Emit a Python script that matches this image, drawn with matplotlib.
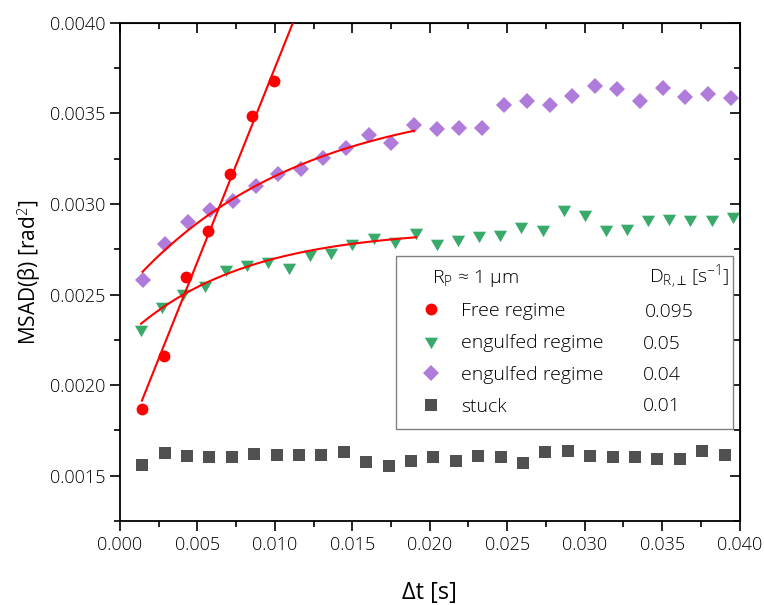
import numpy as np
import matplotlib
matplotlib.use("Agg")
import matplotlib.pyplot as plt
from matplotlib.lines import Line2D

plt.rcParams['font.family'] = ['Open Sans', 'DejaVu Sans']
plt.rcParams['font.weight'] = 'light'
plt.rcParams['mathtext.fontset'] = 'custom'
plt.rcParams['mathtext.rm'] = 'Open Sans:light'
plt.rcParams['mathtext.it'] = 'Open Sans:italic:light'

# free regime (red circles)
t_free = [0.00142, 0.00284, 0.00426, 0.00568, 0.00710, 0.00852, 0.00994]
msad_free = [0.001870, 0.002163, 0.002598, 0.002851, 0.003166, 0.003487, 0.003678]

# engulfed regime, D = 0.05 (green triangles)
t_eng1 = [0.00136, 0.00273, 0.00409, 0.00546, 0.00682, 0.00818, 0.00955, 0.01091,
          0.01228, 0.01364, 0.01500, 0.01637, 0.01773, 0.01910, 0.02046, 0.02182,
          0.02319, 0.02455, 0.02592, 0.02728, 0.02864, 0.03001, 0.03137, 0.03274,
          0.03410, 0.03546, 0.03683, 0.03819, 0.03956]
msad_eng1 = [0.002309, 0.002438, 0.002508, 0.002555, 0.002640, 0.002668, 0.002687,
             0.002651, 0.002724, 0.002737, 0.002787, 0.002820, 0.002798, 0.002844,
             0.002787, 0.002807, 0.002828, 0.002835, 0.002879, 0.002862, 0.002973,
             0.002945, 0.002864, 0.002869, 0.002919, 0.002923, 0.002914, 0.002919,
             0.002934]

# engulfed regime, D = 0.04 (purple diamonds)
t_eng2 = [0.00146, 0.00292, 0.00438, 0.00584, 0.00730, 0.00876, 0.01022, 0.01168,
          0.01314, 0.01460, 0.01606, 0.01752, 0.01898, 0.02044, 0.02190, 0.02336,
          0.02482, 0.02628, 0.02774, 0.02920, 0.03066, 0.03212, 0.03358, 0.03504,
          0.03650, 0.03796, 0.03942]
msad_eng2 = [0.002581, 0.002778, 0.002901, 0.002967, 0.003015, 0.003101, 0.003166,
             0.003191, 0.003255, 0.003307, 0.003382, 0.003335, 0.003436, 0.003412,
             0.003419, 0.003419, 0.003546, 0.003568, 0.003546, 0.003596, 0.003653,
             0.003634, 0.003570, 0.003642, 0.003589, 0.003607, 0.003583]

# stuck (grey squares)
t_stuck = [0.00145, 0.00289, 0.00434, 0.00578, 0.00723, 0.00868, 0.01012, 0.01157,
           0.01301, 0.01446, 0.01591, 0.01735, 0.01880, 0.02024, 0.02169, 0.02314,
           0.02458, 0.02603, 0.02747, 0.02892, 0.03037, 0.03181, 0.03326, 0.03470,
           0.03615, 0.03760, 0.03904]
msad_stuck = [0.001561, 0.001625, 0.001609, 0.001606, 0.001601, 0.001621, 0.001616,
              0.001614, 0.001612, 0.001629, 0.001577, 0.001555, 0.001584, 0.001601,
              0.001581, 0.001610, 0.001603, 0.001572, 0.001629, 0.001634, 0.001609,
              0.001606, 0.001601, 0.001595, 0.001595, 0.001636, 0.001616]

# fit parameters
free_fit = (0.2139, 0.001611)            # slope, intercept
eng1_fit = (0.002865, 0.000631, 0.0075)  # A - B*exp(-t/tau)
eng2_fit = (0.003602, 0.001115, 0.0110)

labels = ["Free regime", "engulfed regime", "engulfed regime", "stuck"]
d_values = ["0.095", "0.05", "0.04", "0.01"]

c_red = "#ff0000"
c_green = "#3aaa6b"
c_purple = "#b07cdc"
c_grey = "#505050"

fig = plt.figure(figsize=(7.64, 6.05), dpi=100)
ax = fig.add_axes([0.157, 0.1388, 0.811, 0.8237])

# fit curves
tf = np.linspace(t_free[0], 0.0125, 50)
ax.plot(tf, free_fit[0] * tf + free_fit[1], color=c_red, lw=1.5, zorder=3)
te1 = np.linspace(t_eng1[0], t_eng1[13], 100)
ax.plot(te1, eng1_fit[0] - eng1_fit[1] * np.exp(-te1 / eng1_fit[2]), color=c_red, lw=1.5, zorder=3)
te2 = np.linspace(t_eng2[0], t_eng2[12], 100)
ax.plot(te2, eng2_fit[0] - eng2_fit[1] * np.exp(-te2 / eng2_fit[2]), color=c_red, lw=1.5, zorder=3)

h1, = ax.plot(t_free, msad_free, linestyle='none', marker='o', ms=8.5, mew=0, color=c_red, zorder=2)
h2, = ax.plot(t_eng1, msad_eng1, linestyle='none', marker=(3, 0, 180), ms=11, mew=0, color=c_green, zorder=2)
h3, = ax.plot(t_eng2, msad_eng2, linestyle='none', marker='D', ms=8.6, mew=0, color=c_purple, zorder=2)
h4, = ax.plot(t_stuck, msad_stuck, linestyle='none', marker='s', ms=8.2, mew=0, color=c_grey, zorder=2)

ax.set_xlim(0.0, 0.040)
ax.set_ylim(0.00125, 0.0040)
ax.set_xticks(np.arange(0, 0.0401, 0.005))
ax.set_xticks(np.arange(0.0025, 0.04, 0.005), minor=True)
ax.set_yticks(np.arange(0.0015, 0.00401, 0.0005))
ax.set_yticks(np.arange(0.00125, 0.004, 0.00025), minor=True)
ax.xaxis.set_major_formatter(matplotlib.ticker.FormatStrFormatter('%.3f'))
ax.yaxis.set_major_formatter(matplotlib.ticker.FormatStrFormatter('%.4f'))

for s in ax.spines.values():
    s.set_linewidth(1.3)
ax.tick_params(which='both', direction='out', top=False, right=False, width=1.2, labelsize=13)
ax.tick_params(which='major', length=7)
ax.tick_params(which='minor', length=4)

# inward ticks on top/right
axt = ax.secondary_xaxis('top')
axt.set_xticks(np.arange(0, 0.0401, 0.005))
axt.set_xticks(np.arange(0.0025, 0.04, 0.005), minor=True)
axt.tick_params(which='both', direction='in', labeltop=False, width=1.2)
axt.tick_params(which='major', length=7)
axt.tick_params(which='minor', length=4)
axr = ax.secondary_yaxis('right')
axr.set_yticks(np.arange(0.0015, 0.00401, 0.0005))
axr.set_yticks(np.arange(0.00125, 0.004, 0.00025), minor=True)
axr.tick_params(which='both', direction='in', labelright=False, width=1.2)
axr.tick_params(which='major', length=7)
axr.tick_params(which='minor', length=4)

ax.set_xlabel(r"Δt [s]", fontsize=17, labelpad=20)
ax.set_ylabel(r"MSAD(β) [rad$^2$]", fontsize=15, labelpad=4)

# legend
blank = Line2D([], [], linestyle='none')
leg = ax.legend([blank, h1, h2, h3, h4], [" "] + labels, loc='upper left',
                bbox_to_anchor=(0.4455, 0.1973, 0.544, 0.3345), mode='expand',
                fontsize=14, numpoints=1, frameon=True, fancybox=False,
                edgecolor='#808080', framealpha=1, borderpad=0.7,
                labelspacing=0.72, handlelength=2.2, handletextpad=0.45,
                borderaxespad=0)
leg.get_frame().set_linewidth(1.0)

ax.text(0.5031, 0.477, r"R$_\mathrm{P}$ ≈ 1 μm", transform=ax.transAxes,
        fontsize=14, ha='left', va='baseline', zorder=6)
ax.text(0.8544, 0.477, r"D$_\mathrm{R,⊥}$ [s$^{-1}$]", transform=ax.transAxes,
        fontsize=14, ha='left', va='baseline', zorder=6)
for y, v in zip([0.420, 0.3546, 0.293, 0.2308], d_values):
    ax.text(0.8475 if v == "0.095" else 0.8438, y, v, transform=ax.transAxes,
            fontsize=14, ha='left', va='center', zorder=6)

fig.savefig("out.png", dpi=100)
